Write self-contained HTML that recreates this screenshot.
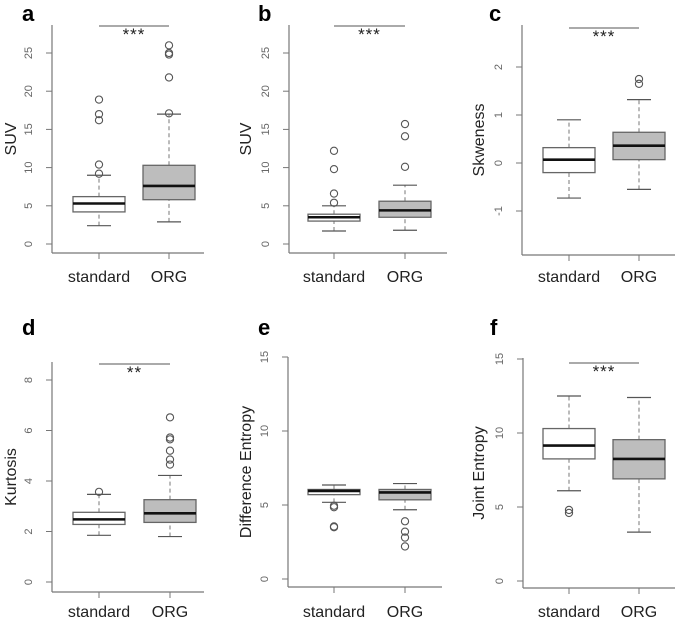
<!DOCTYPE html>
<html><head><meta charset="utf-8"><style>
body{margin:0;background:#fff;}
svg text{font-family:"Liberation Sans",Arial,sans-serif;}
</style></head><body>
<svg id="chart" width="685" height="620" viewBox="0 0 685 620" xmlns="http://www.w3.org/2000/svg"></svg>
<script>
const groups = ["standard","ORG"];
// stats: [lowerWhisker, q1, median, q3, upperWhisker]
const aStd = [2.4,4.2,5.3,6.2,9.0];
const aOrg = [2.9,5.8,7.6,10.3,17.0];
const aStdOut = [9.2,10.4,16.2,17.0,18.9];
const aOrgOut = [17.1,21.8,24.8,25.0,26.0];
const bStd = [1.7,3.0,3.5,3.9,5.0];
const bOrg = [1.8,3.5,4.4,5.6,7.7];
const bStdOut = [5.4,6.6,9.8,12.2];
const bOrgOut = [10.1,14.1,15.7];
const cStd = [-0.73,-0.2,0.07,0.32,0.9];
const cOrg = [-0.55,0.07,0.36,0.64,1.32];
const cStdOut = [];
const cOrgOut = [1.65,1.75];
const dStd = [1.85,2.28,2.48,2.76,3.47];
const dOrg = [1.8,2.36,2.72,3.26,4.22];
const dStdOut = [3.57];
const dOrgOut = [4.65,4.85,5.2,5.65,5.72,6.52];
const eStd = [5.18,5.7,5.95,6.05,6.35];
const eOrg = [4.68,5.35,5.85,6.05,6.45];
const eStdOut = [4.85,4.95,3.5,3.55];
const eOrgOut = [3.9,3.2,2.8,2.2];
const fStd = [6.1,8.25,9.15,10.3,12.5];
const fOrg = [3.3,6.9,8.25,9.55,12.4];
const fStdOut = [4.6,4.8];
const fOrgOut = [];
const aTicks = [0,5,10,15,20,25];
const bTicks = [0,5,10,15,20,25];
const cTicks = [-1,0,1,2];
const dTicks = [0,2,4,6,8];
const eTicks = [0,5,10,15];
const fTicks = [0,5,10,15];
const yTitles = ["SUV","SUV","Skweness","Kurtosis","Difference Entropy","Joint Entropy"];
const sigLabels = ["***","***","***","**","","***"];

const panels = [
 {id:"a",L:52,B:253,T:25,R:204,v0:0,p0:244,v1:25,p1:53,x1:99,x2:169,std:aStd,org:aOrg,so:aStdOut,oo:aOrgOut,ticks:aTicks,lx:22,ly:21,sy:26,xl:282,tx:10},
 {id:"b",L:289,B:253,T:25,R:447,v0:0,p0:244,v1:25,p1:53,x1:334,x2:405,std:bStd,org:bOrg,so:bStdOut,oo:bOrgOut,ticks:bTicks,lx:258,ly:21,sy:26,xl:282,tx:245},
 {id:"c",L:522,B:255,T:25,R:675,v0:0,p0:163,v1:2,p1:67,x1:569,x2:639,std:cStd,org:cOrg,so:cStdOut,oo:cOrgOut,ticks:cTicks,lx:489,ly:21,sy:28,xl:282,tx:478},
 {id:"d",L:52,B:592,T:362,R:204,v0:0,p0:582,v1:8,p1:380,x1:99,x2:170,std:dStd,org:dOrg,so:dStdOut,oo:dOrgOut,ticks:dTicks,lx:22,ly:335,sy:364,xl:617,tx:10},
 {id:"e",L:288,B:587,T:357,R:442,v0:0,p0:579,v1:15,p1:357,x1:334,x2:405,std:eStd,org:eOrg,so:eStdOut,oo:eOrgOut,ticks:eTicks,lx:258,ly:335,sy:null,xl:617,tx:245},
 {id:"f",L:523,B:588,T:358,R:675,v0:0,p0:581,v1:15,p1:359,x1:569,x2:639,std:fStd,org:fOrg,so:fStdOut,oo:fOrgOut,ticks:fTicks,lx:490,ly:335,sy:363,xl:617,tx:478}
];
const svg = document.getElementById('chart');
const NS = "http://www.w3.org/2000/svg";
function mk(tag, attrs, parent){
  const e = document.createElementNS(NS, tag);
  for (const k in attrs) e.setAttribute(k, attrs[k]);
  (parent||svg).appendChild(e); return e;
}
panels.forEach((p, i) => {
  const g = mk('g', {});
  
  
  const y = v => p.p0 + (v - p.v0) * (p.p1 - p.p0) / (p.v1 - p.v0);
  const lab = mk('text', {x:p.lx, y:p.ly, 'font-size':22, 'font-weight':'bold', fill:'#000'}, g);
  lab.textContent = p.id;
  
  
  const ya = mk('line', {x1:p.L, y1:p.T, x2:p.L, y2:p.B, stroke:'#777', 'stroke-width':1.2}, g);
  
  
  const xa = mk('line', {x1:p.L, y1:p.B, x2:p.R, y2:p.B, stroke:'#777', 'stroke-width':1.2}, g);
  
  
  p.ticks.forEach(t => {
    const yy = y(t);
    mk('line', {x1:p.L-6, y1:yy, x2:p.L, y2:yy, stroke:'#777'}, g);
    const tl = mk('text', {x:0, y:0, 'font-size':11, fill:'#666', 'text-anchor':'middle', transform:`translate(${p.L-20},${yy}) rotate(-90)`}, g);
    tl.textContent = t;
    
    
  });
  const yt = mk('text', {x:0, y:0, 'font-size':16, fill:'#222', 'text-anchor':'middle', transform:`translate(${p.tx+6},${(p.T+p.B)/2}) rotate(-90)`}, g);
  yt.textContent = yTitles[i];
  
  
  [[p.x1, p.std, p.so, '#fff'], [p.x2, p.org, p.oo, '#bdbdbd']].forEach(([cx, s, outs, fill], gi) => {
    mk('line', {x1:cx, y1:p.B, x2:cx, y2:p.B+6, stroke:'#777'}, g);
    const xl = mk('text', {x:cx, y:p.xl, 'font-size':16, fill:'#222', 'text-anchor':'middle'}, g);
    xl.textContent = groups[gi];
    
    
    const hw = 26, cw = 12;
    mk('line', {x1:cx, y1:y(s[0]), x2:cx, y2:y(s[1]), stroke:'#777', 'stroke-dasharray':'4,3'}, g);
    mk('line', {x1:cx, y1:y(s[3]), x2:cx, y2:y(s[4]), stroke:'#777', 'stroke-dasharray':'4,3'}, g);
    const w1 = mk('line', {x1:cx-cw, y1:y(s[0]), x2:cx+cw, y2:y(s[0]), stroke:'#555', 'stroke-width':1.2}, g);
    
    
    const w2 = mk('line', {x1:cx-cw, y1:y(s[4]), x2:cx+cw, y2:y(s[4]), stroke:'#555', 'stroke-width':1.2}, g);
    
    
    const box = mk('rect', {x:cx-hw, y:y(s[3]), width:2*hw, height:y(s[1])-y(s[3]), fill:fill, stroke:'#666', 'stroke-width':1.3}, g);
    
    
    const md = mk('line', {x1:cx-hw, y1:y(s[2]), x2:cx+hw, y2:y(s[2]), stroke:'#111', 'stroke-width':2.6}, g);
    
    
    outs.forEach(o => {
      const c = mk('circle', {cx:cx, cy:y(o), r:3.6, fill:'none', stroke:'#555', 'stroke-width':1.1}, g);
      
      
    });
  });
  if (p.sy !== null) {
    const sl = mk('line', {x1:p.x1, y1:p.sy, x2:p.x2, y2:p.sy, stroke:'#777', 'stroke-width':1.2}, g);
    
    
    const st = mk('text', {x:(p.x1+p.x2)/2, y:p.sy+14, 'font-size':17, fill:'#222', 'text-anchor':'middle', 'letter-spacing':'1'}, g);
    st.textContent = sigLabels[i];
    
    
  }
});
</script>
</body></html>
